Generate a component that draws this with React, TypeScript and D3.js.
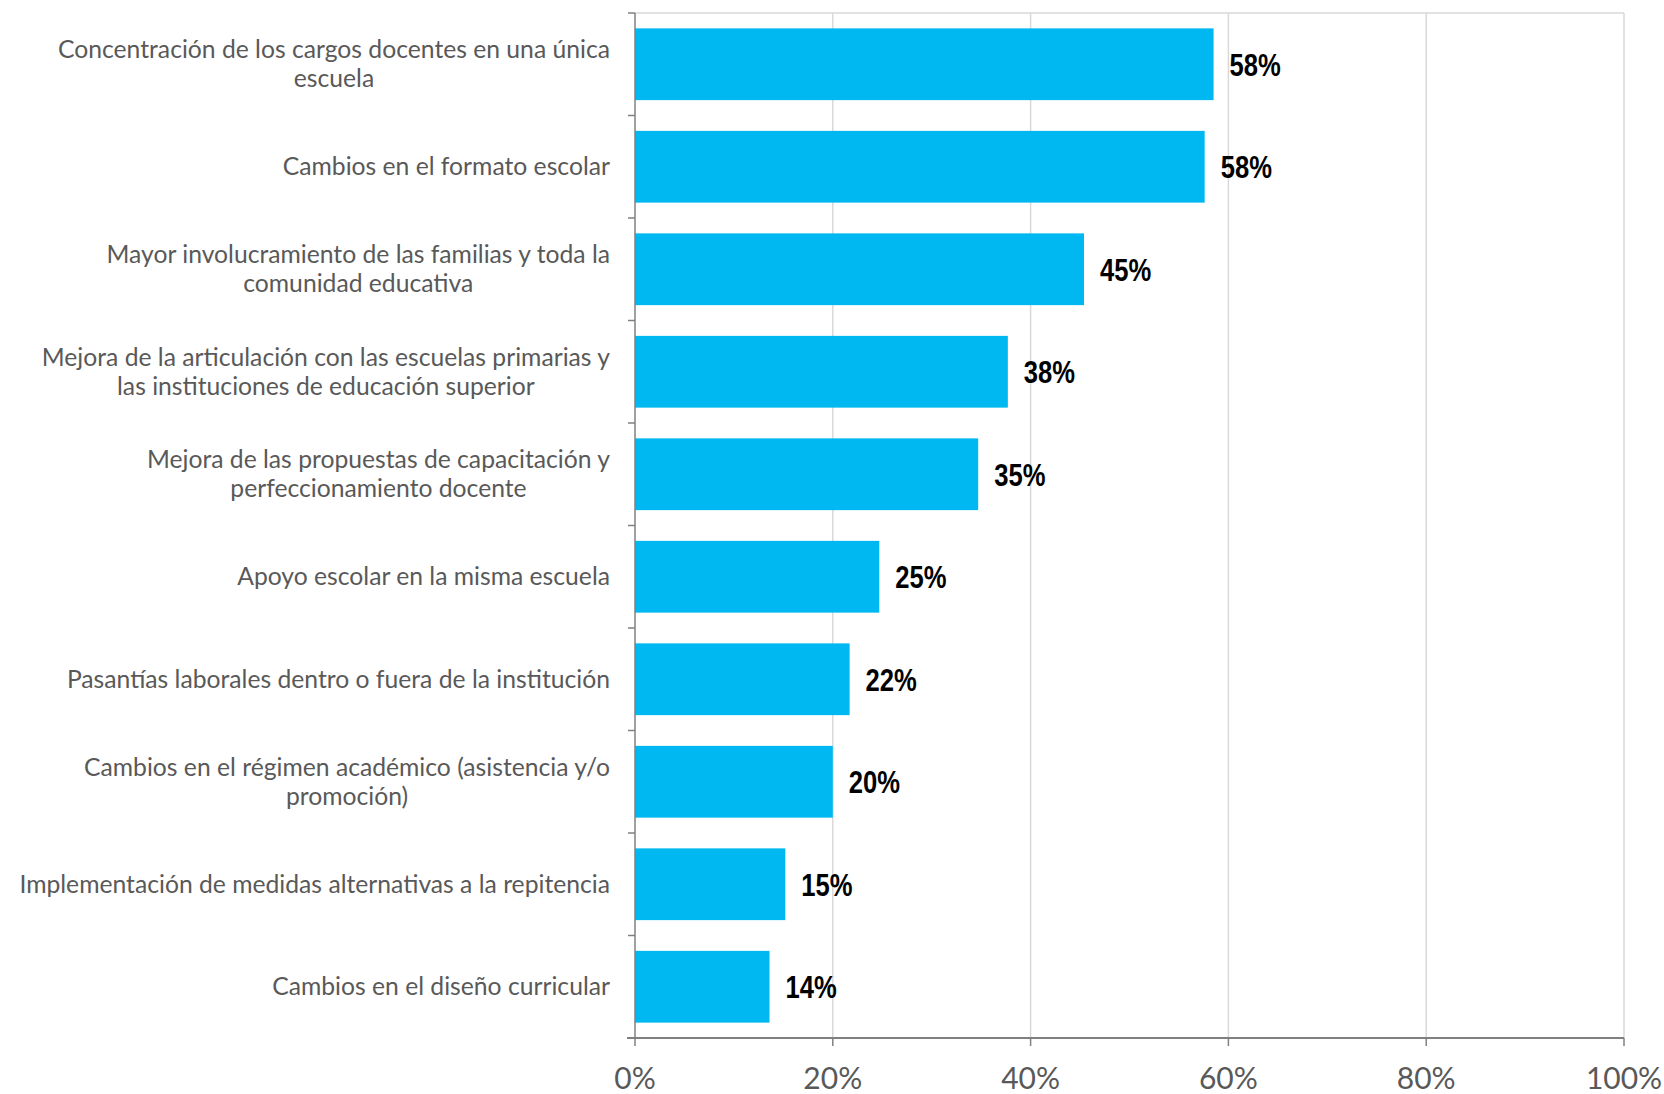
import React, { useEffect, useRef } from "react";
import * as d3 from "d3";

const categories: string[] = [
  "Concentración de los cargos docentes en una única\nescuela",
  "Cambios en el formato escolar",
  "Mayor involucramiento de las familias y toda la\ncomunidad educativa",
  "Mejora de la articulación con las escuelas primarias y\nlas instituciones de educación superior",
  "Mejora de las propuestas de capacitación y\nperfeccionamiento docente",
  "Apoyo escolar en la misma escuela",
  "Pasantías laborales dentro o fuera de la institución",
  "Cambios en el régimen académico (asistencia y/o\npromoción)",
  "Implementación de medidas alternativas a la repitencia",
  "Cambios en el diseño curricular",
];

const values: number[] = [0.585, 0.576, 0.454, 0.377, 0.347, 0.247, 0.217, 0.2, 0.152, 0.136];
const valueLabels: string[] = ["58%", "58%", "45%", "38%", "35%", "25%", "22%", "20%", "15%", "14%"];
const xTicks: number[] = [0, 0.2, 0.4, 0.6, 0.8, 1.0];

const W = 1664;
const H = 1094;
const M = { left: 635, right: 1624, top: 13, bottom: 1038 };

export default function App() {
  const ref = useRef<SVGSVGElement | null>(null);

  useEffect(() => {
    const svg = d3.select(ref.current);
    svg.selectAll("*").remove();

    const x = d3.scaleLinear().domain([0, 1]).range([M.left, M.right]);
    const y = d3
      .scaleBand<number>()
      .domain(d3.range(categories.length))
      .range([M.top, M.bottom])
      .paddingInner(0.3)
      .paddingOuter(0.15);

    const labelFont = "Lato, 'Open Sans', sans-serif";

    // top border
    svg
      .append("line")
      .attr("x1", M.left)
      .attr("x2", M.right)
      .attr("y1", M.top)
      .attr("y2", M.top)
      .attr("stroke", "#d9d9d9")
      .attr("stroke-width", 1.5);

    // gridlines
    svg
      .append("g")
      .selectAll("line")
      .data(xTicks.slice(1))
      .join("line")
      .attr("x1", (d) => x(d))
      .attr("x2", (d) => x(d))
      .attr("y1", M.top)
      .attr("y2", M.bottom)
      .attr("stroke", "#d9d9d9")
      .attr("stroke-width", 1.5);

    // bars
    svg
      .append("g")
      .selectAll("rect")
      .data(values)
      .join("rect")
      .attr("x", x(0))
      .attr("y", (_, i) => y(i)!)
      .attr("width", (d) => x(d) - x(0))
      .attr("height", y.bandwidth())
      .attr("fill", "#00B8F1");

    // value labels (narrow bold)
    const sx = 0.8;
    svg
      .append("g")
      .selectAll("text")
      .data(values)
      .join("text")
      .attr("transform", (d, i) => `translate(${x(d) + 16},${y(i)! + y.bandwidth() / 2}) scale(${sx},1)`)
      .attr("dy", "0.36em")
      .attr("font-family", "'Liberation Sans', Arial, sans-serif")
      .attr("font-weight", "bold")
      .attr("font-size", 32)
      .attr("fill", "#000")
      .text((_, i) => valueLabels[i]);

    // y axis line
    svg
      .append("line")
      .attr("x1", M.left)
      .attr("x2", M.left)
      .attr("y1", M.top)
      .attr("y2", M.bottom)
      .attr("stroke", "#808080")
      .attr("stroke-width", 1.5);

    // y ticks at band boundaries
    const bounds = d3.range(categories.length + 1).map((i) => M.top + (i * (M.bottom - M.top)) / categories.length);
    svg
      .append("g")
      .selectAll("line")
      .data(bounds)
      .join("line")
      .attr("x1", M.left - 7)
      .attr("x2", M.left)
      .attr("y1", (d) => d)
      .attr("y2", (d) => d)
      .attr("stroke", "#808080")
      .attr("stroke-width", 1.5);

    // x axis
    svg
      .append("line")
      .attr("x1", M.left - 8)
      .attr("x2", M.right)
      .attr("y1", M.bottom)
      .attr("y2", M.bottom)
      .attr("stroke", "#808080")
      .attr("stroke-width", 2);
    svg
      .append("g")
      .selectAll("line")
      .data(xTicks)
      .join("line")
      .attr("x1", (d) => x(d))
      .attr("x2", (d) => x(d))
      .attr("y1", M.bottom)
      .attr("y2", M.bottom + 8)
      .attr("stroke", "#808080")
      .attr("stroke-width", 1.5);
    svg
      .append("g")
      .selectAll("text")
      .data(xTicks)
      .join("text")
      .attr("x", (d) => x(d))
      .attr("y", M.bottom + 51)
      .attr("text-anchor", "middle")
      .attr("font-family", labelFont)
      .attr("font-size", 30)
      .attr("fill", "#595959")
      .text((d) => d3.format(".0%")(d));

    // category labels: block right-aligned, lines centered within block
    const lineH = 29;
    const g = svg.append("g");
    categories.forEach((c, i) => {
      const lines = c.split("\n");
      const cy = y(i)! + y.bandwidth() / 2;
      const tg = g.append("g");
      const texts = lines.map((ln, j) =>
        tg
          .append("text")
          .attr("y", cy + (j - (lines.length - 1) / 2) * lineH)
          .attr("dy", "0.35em")
          .attr("font-family", labelFont)
          .attr("font-size", 24.7)
          .attr("fill", "#595959")
          .attr("text-anchor", "middle")
          .text(ln)
      );
      const widths = texts.map((t) => (t.node() as SVGTextElement).getComputedTextLength());
      const maxW = Math.max(...widths);
      const right = M.left - 25;
      texts.forEach((t) => t.attr("x", right - maxW / 2));
    });
  }, []);

  return (
    <div style={{ position: "fixed", left: 0, top: 0, width: W, height: H, background: "#fff" }}>
      <svg ref={ref} width={W} height={H} style={{ display: "block" }} />
    </div>
  );
}
